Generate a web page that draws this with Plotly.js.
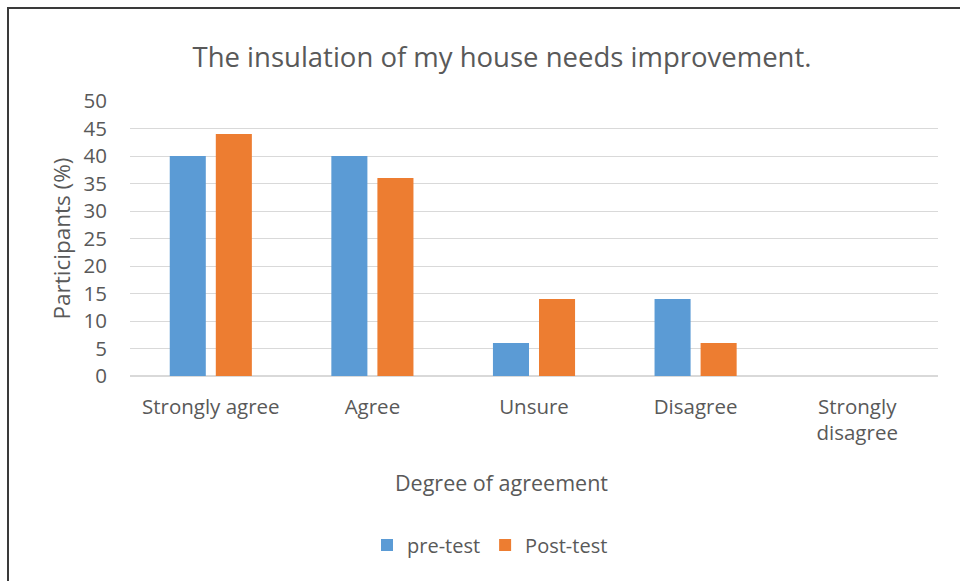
<!DOCTYPE html>
<html>
<head>
<meta charset="utf-8">
<script src="https://cdn.plot.ly/plotly-3.0.1.min.js"></script>
<style>
html,body{margin:0;padding:0;background:#fff;}
#chart{width:960px;height:581px;}
</style>
</head>
<body>
<div id="chart"></div>
<script>
const categories = ["Strongly agree", "Agree", "Unsure", "Disagree", "Strongly<br>disagree"];
const preTest = [40, 40, 6, 14, 0];
const postTest = [44, 36, 14, 6, 0];
const yTicks = [0, 5, 10, 15, 20, 25, 30, 35, 40, 45, 50];

const FONT = "Open Sans, Noto Sans, sans-serif";
const TXT = "#595959";

const data = [
  {type: "bar", name: "pre-test", x: categories, y: preTest, marker: {color: "#5b9bd5"}},
  {type: "bar", name: "Post-test", x: categories, y: postTest, marker: {color: "#ed7d31"}}
];

const L = 130, R = 22, T = 101, B = 205, W = 960, H = 581;
const pw = W - L - R, ph = H - T - B;
const px = v => (v - L) / pw;
const py = v => (H - B - v) / ph;

const layout = {
  width: W, height: H,
  margin: {l: L, r: R, t: T, b: B, pad: 0},
  paper_bgcolor: "#fff", plot_bgcolor: "#fff",
  font: {family: FONT, color: TXT, size: 18},
  title: {text: "The insulation of my house needs improvement.", font: {size: 27.5, color: TXT, family: FONT},
          x: 502 / W, xref: "container", xanchor: "center", y: 1 - 57 / H, yref: "container", yanchor: "middle"},
  barmode: "group", bargap: 0.43, bargroupgap: 0.217,
  showlegend: true,
  legend: {orientation: "h", x: px(490), xanchor: "center", y: py(545), yanchor: "middle",
           font: {size: 20, color: TXT}, itemwidth: 30, traceorder: "normal"},
  xaxis: {
    type: "category", showgrid: false, zeroline: false, showline: false, ticks: "",
    tickfont: {size: 20.5, color: TXT}, ticklabelstandoff: 16
  },
  yaxis: {
    range: [0, 50], tickvals: yTicks, ticktext: yTicks.map(String), showgrid: true, gridcolor: "#d9d9d9", gridwidth: 1,
    zeroline: true, zerolinecolor: "#d9d9d9", zerolinewidth: 1.5, showline: false, ticks: "",
    tickfont: {size: 20.5, color: TXT}, ticklabelstandoff: 22,
    title: {text: "Participants (%)", font: {size: 22.5, color: TXT}, standoff: 6}
  },
  annotations: [
    {text: "Degree of agreement", xref: "paper", yref: "paper", x: px(501), y: py(482), xanchor: "center", yanchor: "middle",
     showarrow: false, font: {size: 21.5, color: TXT}}
  ],
  shapes: [
    {type: "line", xref: "paper", yref: "paper", x0: px(8), x1: px(8), y0: py(7), y1: py(600), line: {color: "#3a3a3a", width: 2}},
    {type: "line", xref: "paper", yref: "paper", x0: px(7), x1: px(970), y0: py(8), y1: py(8), line: {color: "#3a3a3a", width: 2}}
  ]
};

Plotly.newPlot("chart", data, layout, {displayModeBar: false, staticPlot: true});
</script>
</body>
</html>
